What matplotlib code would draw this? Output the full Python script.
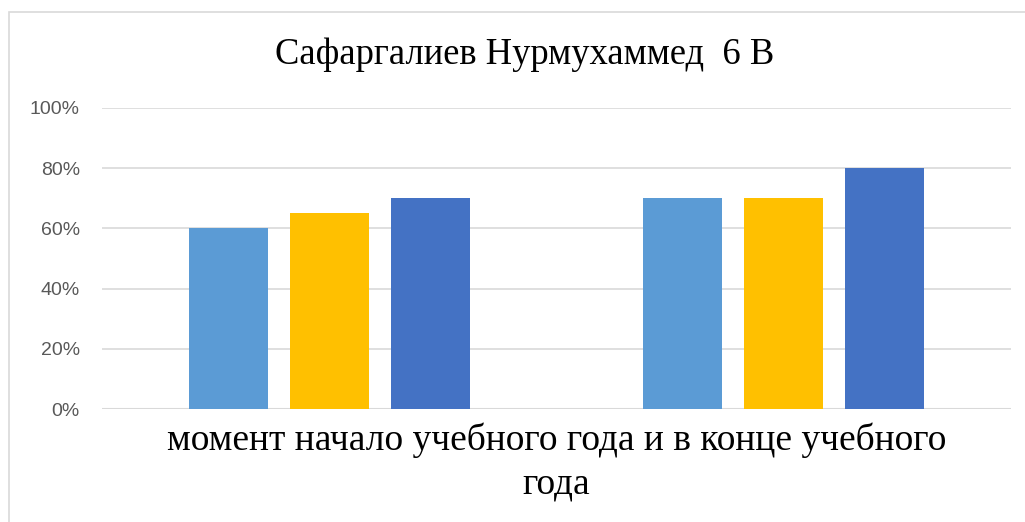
import matplotlib.pyplot as plt
import matplotlib.patches as mpatches
import numpy as np

# data
groups = ['начало учебного года', 'конец учебного года']
values = {
    'ряд 1': [60, 70],
    'ряд 2': [65, 70],
    'ряд 3': [70, 80],
}
colors = ['#5B9BD5', '#FFC000', '#4472C4']
yticks = [0, 20, 40, 60, 80, 100]
title = 'Сафаргалиев Нурмухаммед  6 В'
xlabel = 'момент начало учебного года и в конце учебного\nгода'

fig = plt.figure(figsize=(10.25, 5.22), dpi=100)
ax = fig.add_axes([102/1025, 1 - 409/522, (1011 - 102)/1025, (409 - 108)/522])

x = np.arange(len(groups))
width = 0.174
step = 0.222
for i, (name, vals) in enumerate(values.items()):
    ax.bar(x + (i - 1) * step, vals, width, color=colors[i], zorder=3, label=name)

ax.set_xlim(-0.5, 1.5)
ax.set_ylim(0, 100)
ax.set_yticks(yticks)
ax.set_yticklabels([f'{v}%' for v in yticks], color='#595959',
                   fontsize=14, family='Liberation Sans')
ax.tick_params(axis='y', length=0, pad=16)
ax.set_xticks([])
ax.grid(axis='y', color='#D9D9D9', linewidth=1.2, zorder=0)
for s in ax.spines.values():
    s.set_visible(False)
ax.axhline(0, color='#D9D9D9', linewidth=1.5, zorder=2)

ax.set_xlabel(xlabel, family='Liberation Serif', fontsize=27, linespacing=1.32,
              labelpad=10)

fig.text(525/1025, 1 - 55/522, title, family='Liberation Serif', fontsize=26.3,
         ha='center', va='center')

# chart frame (left and top edges visible)
frame = mpatches.Rectangle((9/1025, -0.1), 1.2, 1 - 12/522 + 0.1,
                           transform=fig.transFigure, fill=False,
                           edgecolor='#D9D9D9', linewidth=1.2)
fig.patches.append(frame)

fig.savefig('out.png', dpi=100)
